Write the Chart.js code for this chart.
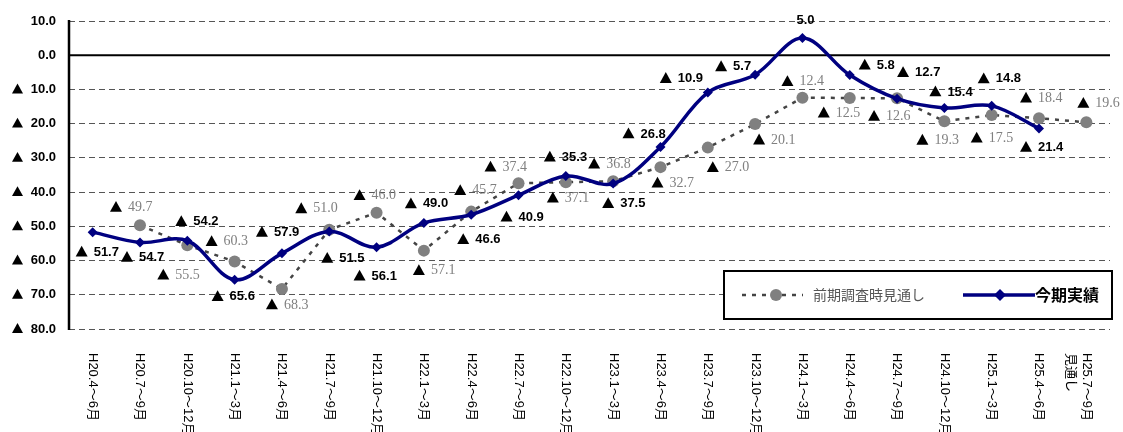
<!DOCTYPE html>
<html>
<head>
<meta charset="utf-8">
<script src="https://cdn.jsdelivr.net/npm/chart.js@4"></script>
<style>
  body { margin: 0; background: #fff; }
  #wrap { width: 1123px; height: 432px; }
</style>
</head>
<body>
<div id="wrap"><canvas id="chart"></canvas></div>
<script>
// categories (x axis)
const categories = [
  'H20.4～6月', 'H20.7～9月', 'H20.10～12月', 'H21.1～3月', 'H21.4～6月', 'H21.7～9月',
  'H21.10～12月', 'H22.1～3月', 'H22.4～6月', 'H22.7～9月', 'H22.10～12月', 'H23.1～3月',
  'H23.4～6月', 'H23.7～9月', 'H23.10～12月', 'H24.1～3月', 'H24.4～6月', 'H24.7～9月',
  'H24.10～12月', 'H25.1～3月', 'H25.4～6月', ['H25.7～9月', '見通し']
];

// 今期実績
const actual = [
  -51.7, -54.7, -54.2, -65.6, -57.9, -51.5, -56.1, -49.0, -46.6, -40.9, -35.3, -37.5,
  -26.8, -10.9, -5.7, 5.0, -5.8, -12.7, -15.4, -14.8, -21.4, null
];

// 前期調査時見通し
const forecast = [
  null, -49.7, -55.5, -60.3, -68.3, -51.0, -46.0, -57.1, -45.7, -37.4, -37.1, -36.8,
  -32.7, -27.0, -20.1, -12.4, -12.5, -12.6, -19.3, -17.5, -18.4, -19.6
];

// y axis ticks
const yTicks = [10, 0, -10, -20, -30, -40, -50, -60, -70, -80];

// where each value label sits relative to its point (left edge, middle)
const actualLabelPos = [
  [-17, 20], [-19, 15], [-12, -19], [-23, 17], [-26, -21], [-8, 27], [-23, 29], [-19, -19],
  [-14, 25], [-18, 22], [-22, -19], [-11, 20], [-38, -13], [-48, -14], [-40, -8], [-6, -18],
  [9, -10], [0, -26], [-15, -16], [-14, -27], [-19, 19], null
];
const forecastLabelPos = [
  null, [-30, -18], [-30, 30], [-29, -20], [-16, 16], [-34, -21], [-23, -17], [-11, 20],
  [-17, -21], [-34, -16], [-19, 16], [-25, -17], [-9, 16], [-1, 20], [-2, 16], [-21, -16],
  [-32, 15], [-29, 18], [-28, 19], [-21, 23], [-19, -20], [-9, -19]
];

function drawTri(ctx, x, y, w) {
  // filled ▲ mark, x = left edge, y = middle
  const h = w * 0.9;
  ctx.beginPath();
  ctx.moveTo(x, y + h / 2);
  ctx.lineTo(x + w / 2, y - h / 2);
  ctx.lineTo(x + w, y + h / 2);
  ctx.closePath();
  ctx.fill();
}

// value labels next to the points
const valueLabels = {
  id: 'valueLabels',
  afterDatasetsDraw(chart) {
    const ctx = chart.ctx;
    chart.data.datasets.forEach((ds, i) => {
      const meta = chart.getDatasetMeta(i);
      meta.data.forEach((pt, j) => {
        const v = ds.data[j];
        const pos = ds.labelPos[j];
        if (v == null || !pos) return;
        let x = pt.x + pos[0];
        const y = pt.y + pos[1];
        ctx.save();
        ctx.textBaseline = 'middle';
        ctx.textAlign = 'left';
        if (v < 0) {
          ctx.fillStyle = '#000';
          drawTri(ctx, x, y - 1, 12);
          x += 18;
        }
        ctx.fillStyle = ds.labelColor;
        ctx.font = ds.labelFont;
        ctx.fillText(Math.abs(v).toFixed(1), x, y);
        ctx.restore();
      });
    });
  }
};

// axis line, zero line, tick labels, legend box
const decorations = {
  id: 'decorations',
  beforeDatasetsDraw(chart) {
    const { ctx, chartArea, scales } = chart;
    const y0 = scales.y.getPixelForValue(0);
    ctx.save();
    ctx.strokeStyle = '#000';
    ctx.lineWidth = 2;
    ctx.beginPath();
    ctx.moveTo(chartArea.left, y0);
    ctx.lineTo(chartArea.right, y0);
    ctx.stroke();
    ctx.lineWidth = 2.5;
    ctx.beginPath();
    ctx.moveTo(chartArea.left, chartArea.top - 1);
    ctx.lineTo(chartArea.left, chartArea.bottom + 1);
    ctx.stroke();
    ctx.restore();
  },
  afterDraw(chart) {
    const { ctx, chartArea, scales } = chart;
    ctx.save();
    ctx.fillStyle = '#000';
    ctx.textBaseline = 'middle';

    // y tick labels
    ctx.font = 'bold 13px "Liberation Sans"';
    ctx.textAlign = 'right';
    yTicks.forEach(v => {
      const y = scales.y.getPixelForValue(v);
      ctx.fillText(Math.abs(v).toFixed(1), 56, y);
      if (v < 0) drawTri(ctx, 12, y - 1, 11);
    });

    // x tick labels, turned a quarter clockwise
    ctx.font = '13px "Liberation Sans", "Noto Sans CJK JP"';
    ctx.textAlign = 'left';
    categories.forEach((lab, i) => {
      const lines = Array.isArray(lab) ? lab : [lab];
      const x = scales.x.getPixelForValue(i);
      lines.forEach((line, k) => {
        ctx.save();
        ctx.translate(x - k * 16, chartArea.bottom + 24);
        ctx.rotate(Math.PI / 2);
        ctx.fillText(line, 0, 0);
        ctx.restore();
      });
    });

    // legend
    const bx = 724, by = 271, bw = 388, bh = 48;
    ctx.fillStyle = '#fff';
    ctx.fillRect(bx, by, bw, bh);
    ctx.strokeStyle = '#000';
    ctx.lineWidth = 2;
    ctx.strokeRect(bx, by, bw, bh);
    const cy = by + bh / 2;

    ctx.strokeStyle = '#444';
    ctx.lineWidth = 2.5;
    ctx.setLineDash([4, 6]);
    ctx.beginPath();
    ctx.moveTo(742, cy);
    ctx.lineTo(803, cy);
    ctx.stroke();
    ctx.setLineDash([]);
    ctx.fillStyle = '#808080';
    ctx.beginPath();
    ctx.arc(776, cy, 6, 0, Math.PI * 2);
    ctx.fill();
    ctx.fillStyle = '#555';
    ctx.font = '14px "Noto Sans CJK JP"';
    ctx.fillText('前期調査時見通し', 813, cy);

    ctx.strokeStyle = '#000080';
    ctx.lineWidth = 3.5;
    ctx.beginPath();
    ctx.moveTo(963, cy);
    ctx.lineTo(1035, cy);
    ctx.stroke();
    ctx.fillStyle = '#000080';
    ctx.beginPath();
    ctx.moveTo(1000, cy - 6);
    ctx.lineTo(1006, cy);
    ctx.lineTo(1000, cy + 6);
    ctx.lineTo(994, cy);
    ctx.closePath();
    ctx.fill();
    ctx.fillStyle = '#000';
    ctx.font = 'bold 16px "Noto Sans CJK JP"';
    ctx.fillText('今期実績', 1035, cy);
    ctx.restore();
  }
};

new Chart(document.getElementById('chart'), {
  type: 'line',
  data: {
    labels: categories,
    datasets: [
      {
        label: '今期実績',
        data: actual,
        borderColor: '#000080',
        backgroundColor: '#000080',
        borderWidth: 3.5,
        tension: 0.35,
        pointStyle: 'rectRot',
        pointRadius: 5,
        pointBorderWidth: 0,
        order: 0,
        labelPos: actualLabelPos,
        labelColor: '#000',
        labelFont: 'bold 13px "Liberation Sans"'
      },
      {
        label: '前期調査時見通し',
        data: forecast,
        borderColor: '#444',
        backgroundColor: '#808080',
        borderWidth: 2.5,
        borderDash: [4, 6],
        tension: 0,
        pointStyle: 'circle',
        pointRadius: 6,
        pointBorderWidth: 0,
        order: 1,
        labelPos: forecastLabelPos,
        labelColor: '#808080',
        labelFont: '14px "Liberation Serif"'
      }
    ]
  },
  options: {
    responsive: true,
    maintainAspectRatio: false,
    animation: false,
    layout: { padding: { top: 21, right: 13, left: 0, bottom: 0 } },
    plugins: {
      legend: { display: false },
      tooltip: { enabled: false }
    },
    scales: {
      x: {
        offset: true,
        grid: { display: false },
        border: { display: false },
        ticks: { display: false },
        afterFit(scale) { scale.height = 103; }
      },
      y: {
        min: -80,
        max: 10,
        afterBuildTicks(scale) {
          scale.ticks = yTicks.map(v => ({ value: v }));
        },
        afterFit(scale) { scale.width = 69; },
        grid: { color: '#555', lineWidth: 1, drawTicks: false },
        border: { display: false, dash: [6, 4] },
        ticks: { display: false }
      }
    }
  },
  plugins: [decorations, valueLabels]
});
</script>
</body>
</html>
